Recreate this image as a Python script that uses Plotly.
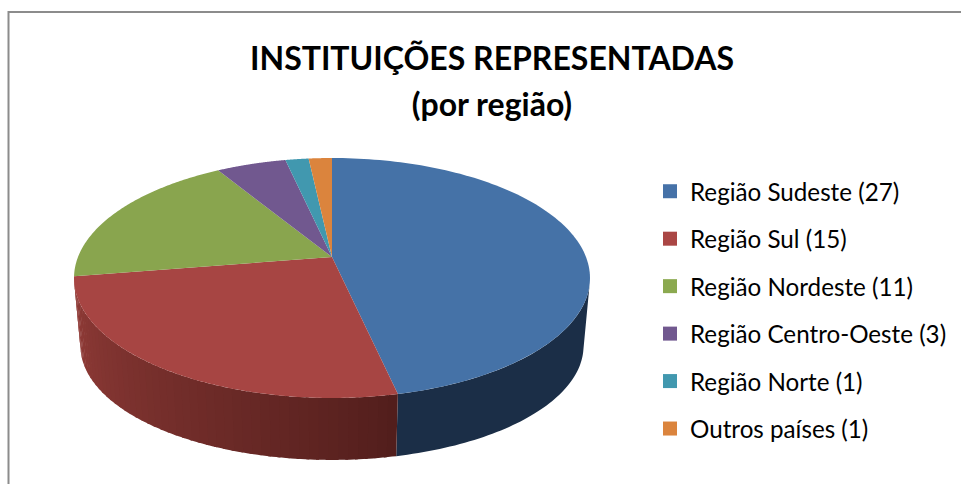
import numpy as np
import plotly.graph_objects as go

categories = ["Região Sudeste (27)", "Região Sul (15)", "Região Nordeste (11)",
              "Região Centro-Oeste (3)", "Região Norte (1)", "Outros países (1)"]
values = [27, 15, 11, 3, 1, 1]
top_colors = ["#4572A7", "#A74543", "#89A54E", "#71588F", "#4198AF", "#DB843D"]
legend_colors = ["#4672A8", "#AA4644", "#8BA94F", "#71588F", "#4198AF", "#DB843D"]
title_lines = ["INSTITUIÇÕES REPRESENTADAS", "(por região)"]

# projection of the tilted pie on to the canvas
CX, CY = 332.0, 257.0
A, B, K = 254.0, 116.3, 0.175
F, G, DY = 0.975, 0.95, 69.0


def top(t):
    w = 1 + K * np.cos(t)
    return CX + A * np.sin(t) / w, CY - B * np.cos(t) / w


def bottom(t):
    w = 1 + K * np.cos(t)
    return CX + F * A * np.sin(t) / w, CY + DY - G * B * np.cos(t) / w


def mix(c1, c2, f):
    return "rgb(%d,%d,%d)" % tuple(round(a + (b - a) * f) for a, b in zip(c1, c2))


total = sum(values)
edges = 2 * np.pi * np.cumsum([0] + values) / total
fig = go.Figure()

limit_r = np.arccos(-K) + 0.03

# blue wall (dark, uniform)
t = np.linspace(limit_r, edges[1], 60)
xt, yt = top(t)
xb, yb = bottom(t)
fig.add_trace(go.Scatter(x=np.r_[xt, xb[::-1]], y=np.r_[yt, yb[::-1]], fill="toself",
                         fillcolor="#1B2E47", mode="none", showlegend=False, hoverinfo="skip"))

# red wall: shaded from dark on the right to lighter on the left
n = 50
steps = np.linspace(edges[1], edges[2], n + 1)
for i in range(n):
    t = np.linspace(steps[i], steps[i + 1] + 0.01, 4)
    xt, yt = top(t)
    xb, yb = bottom(t)
    f = (i / (n - 1)) ** 0.9
    col = mix((82, 30, 28), (146, 60, 56), f)
    fig.add_trace(go.Scatter(x=np.r_[xt, xb[::-1]], y=np.r_[yt, yb[::-1]], fill="toself",
                             fillcolor=col, mode="none", showlegend=False, hoverinfo="skip"))

# top face
for i in range(len(values)):
    t = np.linspace(edges[i], edges[i + 1], 120)
    x, y = top(t)
    fig.add_trace(go.Scatter(x=np.r_[CX, x, CX], y=np.r_[CY, y, CY], fill="toself",
                             fillcolor=top_colors[i], mode="none", showlegend=False,
                             name=categories[i], hoverinfo="name"))

# legend entries
for name, col in zip(categories, legend_colors):
    fig.add_trace(go.Scatter(x=[None], y=[None], mode="markers", name=name, legendgroup=name,
                             marker=dict(symbol="square", size=14, color=col)))

title_text = "<br>".join('<span style="font-size:32px">%s</span>' % s for s in title_lines)

fig.update_layout(
    width=961, height=484, margin=dict(l=0, r=0, t=0, b=0),
    paper_bgcolor="white", plot_bgcolor="white",
    font=dict(family="Lato, Carlito, sans-serif", color="black"),
    title=dict(text=title_text, x=492 / 961, xanchor="center", y=1 - 69.5 / 484, yanchor="middle",
               font=dict(size=36, family="Lato, sans-serif", weight="bold", color="black")),
    xaxis=dict(range=[0, 961], visible=False, fixedrange=True),
    yaxis=dict(range=[484, 0], visible=False, fixedrange=True),
    legend=dict(x=650 / 961, xanchor="left", y=1 - 169 / 484, yanchor="top",
                font=dict(size=24.2, family="Lato, sans-serif"),
                tracegroupgap=13, bgcolor="rgba(0,0,0,0)", itemclick=False, itemdoubleclick=False),
    shapes=[dict(type="rect", xref="paper", yref="paper", x0=8.5 / 961, x1=1.2, y0=-0.2, y1=1 - 12 / 484,
                 line=dict(color="#8C8C8C", width=2), fillcolor="rgba(0,0,0,0)")],
)
fig.write_html("out.html", config=dict(displayModeBar=False),
               post_script="document.body.style.margin='0';")
